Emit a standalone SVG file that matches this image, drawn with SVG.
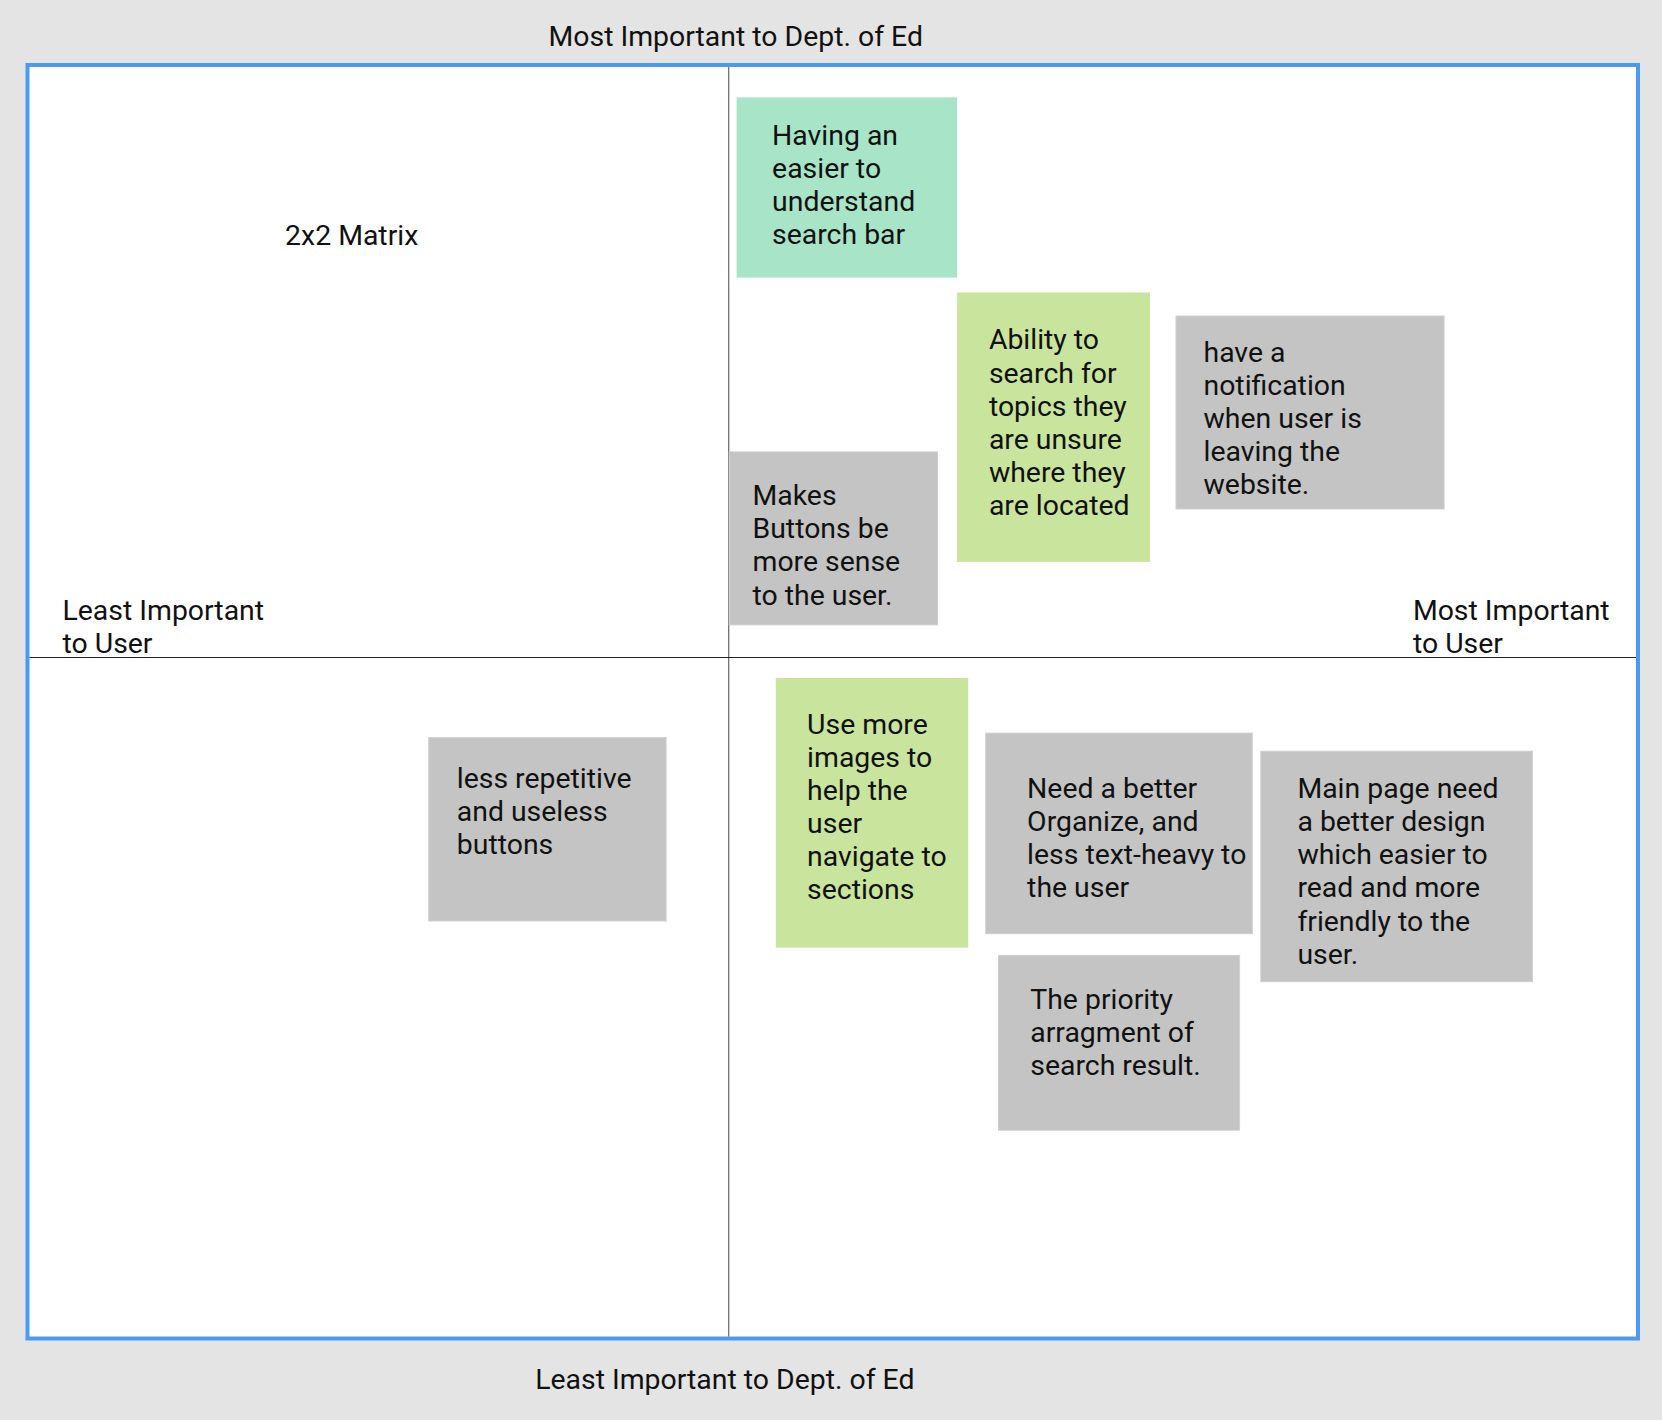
<svg xmlns="http://www.w3.org/2000/svg" width="1662" height="1420" viewBox="0 0 1662 1420">
  <style>
    text { font-family: Roboto, "Liberation Sans", sans-serif; font-size: 28.4px; fill: #111111; }
    .gray { fill: #c4c4c4; stroke: #d0d0d0; stroke-width: 1; }
    .green { fill: #c9e49d; }
    .teal { fill: #a7e4c8; }
  </style>
  <rect x="0" y="0" width="1662" height="1420" fill="#e4e4e4"/>
  <rect id="frame" x="27.5" y="65" width="1610.5" height="1273.5" fill="#ffffff" stroke="#4a9af0" stroke-width="4"/>
  <g id="axes">
    <line x1="728.7" y1="67" x2="728.7" y2="1336.5" stroke="#666666" stroke-width="1.2"/>
    <line x1="29.5" y1="657.5" x2="1636" y2="657.5" stroke="#222222" stroke-width="1.2"/>
  </g>
  <g id="labels" transform="translate(0,0.8)">
    <text x="548.5" y="45.3">Most Important to Dept. of Ed</text>
    <text x="535.2" y="1387.8">Least Important to Dept. of Ed</text>
    <text x="285.1" y="244.5">2x2 Matrix</text>
    <text x="62.5"><tspan x="62.5" y="619.4">Least Important</tspan><tspan x="62.5" y="652">to User</tspan></text>
    <text x="1412.9"><tspan x="1412.9" y="619.4">Most Important</tspan><tspan x="1412.9" y="652">to User</tspan></text>
  </g>
  <g id="note-search-bar">
    <rect class="teal" x="736.6" y="97.4" width="220.5" height="180.2"/>
    <text transform="translate(0,0.8)"><tspan x="772.1" y="144">Having an</tspan><tspan x="772.1" y="177">easier to</tspan><tspan x="772.1" y="210">understand</tspan><tspan x="772.1" y="243.2">search bar</tspan></text>
  </g>
  <g id="note-ability">
    <rect class="green" x="957.1" y="292.5" width="192.9" height="269.4"/>
    <text transform="translate(0,0.8)"><tspan x="988.9" y="348.7">Ability to</tspan><tspan x="988.9" y="381.9">search for</tspan><tspan x="988.9" y="415.1">topics they</tspan><tspan x="988.9" y="448.3">are unsure</tspan><tspan x="988.9" y="481.5">where they</tspan><tspan x="988.9" y="514.7">are located</tspan></text>
  </g>
  <g id="note-notification">
    <rect class="gray" x="1176" y="316" width="268.1" height="193"/>
    <text transform="translate(0,0.8)"><tspan x="1203.5" y="361.3">have a</tspan><tspan x="1203.5" y="394.4">notification</tspan><tspan x="1203.5" y="427.4">when user is</tspan><tspan x="1203.5" y="460.5">leaving the</tspan><tspan x="1203.5" y="493.5">website.</tspan></text>
  </g>
  <g id="note-buttons-sense">
    <rect class="gray" x="729.2" y="451.9" width="208.3" height="173"/>
    <text transform="translate(0,0.8)"><tspan x="752.5" y="503.8">Makes</tspan><tspan x="752.5" y="537.2">Buttons be</tspan><tspan x="752.5" y="570.6">more sense</tspan><tspan x="752.5" y="604.2">to the user.</tspan></text>
  </g>
  <g id="note-repetitive">
    <rect class="gray" x="428.7" y="737.6" width="237.4" height="183.4"/>
    <text transform="translate(0,0.8)"><tspan x="456.8" y="787">less repetitive</tspan><tspan x="456.8" y="820">and useless</tspan><tspan x="456.8" y="853.1">buttons</tspan></text>
  </g>
  <g id="note-images">
    <rect class="green" x="775.8" y="678" width="192.4" height="269.6"/>
    <text transform="translate(0,0.8)"><tspan x="807.1" y="733.6">Use more</tspan><tspan x="807.1" y="766.6">images to</tspan><tspan x="807.1" y="799.5">help the</tspan><tspan x="807.1" y="832.5">user</tspan><tspan x="807.1" y="865.4">navigate to</tspan><tspan x="807.1" y="898.4">sections</tspan></text>
  </g>
  <g id="note-organize">
    <rect class="gray" x="985.7" y="733.1" width="266.6" height="200.6"/>
    <text transform="translate(0,0.8)"><tspan x="1027.1" y="796.9">Need a better</tspan><tspan x="1027.1" y="830.2">Organize, and</tspan><tspan x="1027.1" y="863.4">less text-heavy to</tspan><tspan x="1027.1" y="896.6">the user</tspan></text>
  </g>
  <g id="note-main-page">
    <rect class="gray" x="1260.8" y="751.2" width="271.8" height="230.5"/>
    <text transform="translate(0,0.8)"><tspan x="1297.4" y="796.9">Main page need</tspan><tspan x="1297.4" y="830.2">a better design</tspan><tspan x="1297.4" y="863.4">which easier to</tspan><tspan x="1297.4" y="896.6">read and more</tspan><tspan x="1297.4" y="929.8">friendly to the</tspan><tspan x="1297.4" y="962.9">user.</tspan></text>
  </g>
  <g id="note-priority">
    <rect class="gray" x="998.5" y="955.4" width="241.1" height="174.8"/>
    <text transform="translate(0,0.8)"><tspan x="1030.3" y="1008">The priority</tspan><tspan x="1030.3" y="1041">arragment of</tspan><tspan x="1030.3" y="1074">search result.</tspan></text>
  </g>
</svg>
